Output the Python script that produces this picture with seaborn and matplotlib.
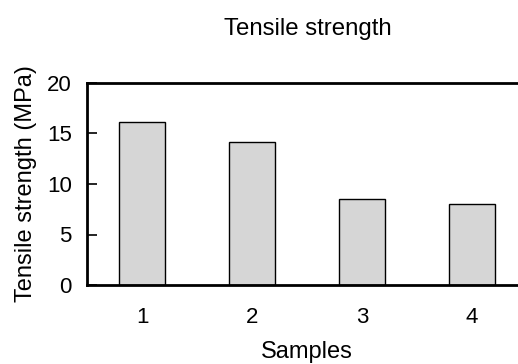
import matplotlib
matplotlib.use("Agg")
import matplotlib.pyplot as plt
import seaborn as sns
import pandas as pd

samples = ["1", "2", "3", "4"]
strength = [16.1, 14.2, 8.5, 8.0]

sns.set_style("white")
plt.rcParams['font.family'] = ['Liberation Sans', 'DejaVu Sans']
plt.rcParams['text.color'] = 'black'
plt.rcParams['axes.labelcolor'] = 'black'
plt.rcParams['xtick.color'] = 'black'
plt.rcParams['ytick.color'] = 'black'

df = pd.DataFrame({"Samples": samples, "Tensile strength": strength})

fig = plt.figure(figsize=(5.18, 3.64), dpi=100)
ax = fig.add_axes([87/518, 79/364, 440/518, 202/364])

sns.barplot(data=df, x="Samples", y="Tensile strength", ax=ax,
            color="#d6d6d6", width=0.42, edgecolor="black", linewidth=1.0,
            saturation=1)

ax.set_xlim(-0.5, 3.5)
ax.set_ylim(0, 20)
ax.set_yticks([0, 5, 10, 15, 20])
for s in ["left", "bottom", "top"]:
    ax.spines[s].set_visible(True)
    ax.spines[s].set_linewidth(2.0)
    ax.spines[s].set_color("black")
ax.spines["right"].set_visible(False)
ax.tick_params(axis="y", direction="in", length=7, width=1.2, labelsize=16, pad=11, left=True,
               color="black", labelcolor="black")
ax.tick_params(axis="x", length=0, labelsize=16, pad=16, labelcolor="black")
ax.set_xlabel("Samples", fontsize=17, labelpad=9, color="black")
ax.set_ylabel("Tensile strength (MPa)", fontsize=17, labelpad=7, color="black")
fig.text(308/518, 1 - 35/364, "Tensile strength", ha="center", va="baseline", fontsize=17.3, color="black")

fig.savefig("out.png", dpi=100)
